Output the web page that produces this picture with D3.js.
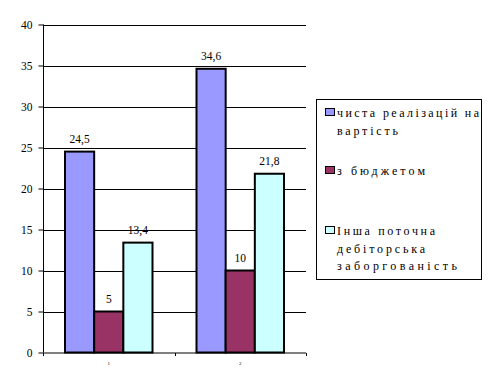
<!DOCTYPE html>
<html><head><meta charset="utf-8">
<script src="https://cdn.jsdelivr.net/npm/d3@7"></script>
<style>
html,body{margin:0;padding:0;background:#fff;}
svg{display:block;}
</style></head>
<body>
<script>
const categories = ["1", "2"];
const seriesNames = ["чиста реалізацій на вартість", "з бюджетом", "Інша поточна дебіторська заборгованість"];
const seriesValues = [[24.5, 34.6], [5, 10], [13.4, 21.8]];
const valueLabels = [["24,5", "34,6"], ["5", "10"], ["13,4", "21,8"]];
const yTicks = [0, 5, 10, 15, 20, 25, 30, 35, 40];
const colors = ["#9999FF", "#993366", "#CCFFFF"];
const legendLines = [["чиста реалізацій на", "вартість"], ["з бюджетом"], ["Інша поточна", "дебіторська", "заборгованість"]];

const W = 492, H = 385;
const FONT = "'Times New Roman', Tinos, 'Noto Serif', 'DejaVu Serif', 'Liberation Serif', serif";
const svg = d3.select("body").append("svg").attr("width", W).attr("height", H);

const plot = {left: 43, right: 306, top: 24.5, bottom: 352.5};
const y = d3.scaleLinear().domain([0, 40]).range([plot.bottom, plot.top]);
const x0 = d3.scaleBand().domain(categories).range([plot.left, plot.right]).padding(0);
const bw = x0.bandwidth();
const gap = 22;
const x1 = d3.scaleBand().domain(d3.range(seriesNames.length)).range([gap, bw - gap]).padding(0);

// gridlines
svg.append("g").selectAll("line").data(yTicks.filter(d => d > 0)).join("line")
  .attr("x1", plot.left).attr("x2", plot.right)
  .attr("y1", d => Math.round(y(d)) + 0.5).attr("y2", d => Math.round(y(d)) + 0.5)
  .attr("stroke", "#000").attr("stroke-width", 1);

// bars
const bars = svg.append("g");
seriesValues.forEach((vals, si) => {
  bars.selectAll(null).data(vals).join("rect")
    .attr("x", (d, i) => x0(categories[i]) + x1(si))
    .attr("width", x1.bandwidth())
    .attr("y", d => y(d))
    .attr("height", d => y(0) - y(d))
    .attr("fill", colors[si])
    .attr("stroke", "#000").attr("stroke-width", 2);
  bars.selectAll(null).data(vals).join("text")
    .attr("x", (d, i) => x0(categories[i]) + x1(si) + x1.bandwidth() / 2)
    .attr("y", d => y(d) - 8.5)
    .attr("text-anchor", "middle")
    .attr("font-family", FONT)
    .attr("font-size", 11.5)
    .attr("fill", "#000")
    .text((d, i) => valueLabels[si][i]);
});

// y axis
const yAxis = d3.axisLeft(y).tickValues(yTicks).tickSize(5).tickPadding(6).tickFormat(d3.format("d"));
const gy = svg.append("g").attr("transform", `translate(${plot.left + 0.5},0)`).call(yAxis);
gy.attr("font-family", FONT).attr("font-size", 11.5);
gy.select(".domain").attr("stroke", "#000").attr("d", `M0,${plot.top}V${plot.bottom}`);
gy.selectAll(".tick line").attr("stroke", "#000");
gy.selectAll(".tick text").attr("font-family", FONT).attr("font-size", 11.5).attr("fill", "#000");

// x axis
const gx = svg.append("g").attr("transform", `translate(0,${plot.bottom + 0.5})`);
gx.append("line").attr("x1", plot.left).attr("x2", plot.right).attr("stroke", "#000");
const xTickPos = categories.map(c => x0(c)).concat([plot.right]);
gx.selectAll("line.t").data(xTickPos).join("line").attr("class", "t")
  .attr("x1", d => Math.round(d) + 0.5).attr("x2", d => Math.round(d) + 0.5)
  .attr("y1", 0).attr("y2", 3).attr("stroke", "#000");
gx.selectAll("text").data(categories).join("text")
  .attr("x", d => x0(d) + bw / 2).attr("y", 12)
  .attr("text-anchor", "middle").attr("font-family", FONT).attr("font-size", 5).attr("fill", "#000")
  .text(d => d);

// legend
const lg = svg.append("g");
lg.append("rect").attr("x", 316.5).attr("y", 99.5).attr("width", 165).attr("height", 180)
  .attr("fill", "#fff").attr("stroke", "#000").attr("stroke-width", 1);
const legendBaselines = [[117, 135], [175], [235, 253, 270]];
const lineWidths = [[142, 61], [88], [98, 88, 120]];
legendLines.forEach((lines, si) => {
  lg.append("rect").attr("x", 325.5).attr("y", legendBaselines[si][0] - 8.5).attr("width", 9).attr("height", 7)
    .attr("fill", colors[si]).attr("stroke", "#000").attr("stroke-width", 1);
  lines.forEach((t, li) => {
    lg.append("text").attr("x", 337).attr("y", legendBaselines[si][li])
      .attr("font-family", FONT)
      .attr("font-size", 12).attr("fill", "#000")
      .attr("textLength", lineWidths[si][li]).attr("lengthAdjust", "spacing")
      .text(t);
  });
});
</script>
</body></html>
